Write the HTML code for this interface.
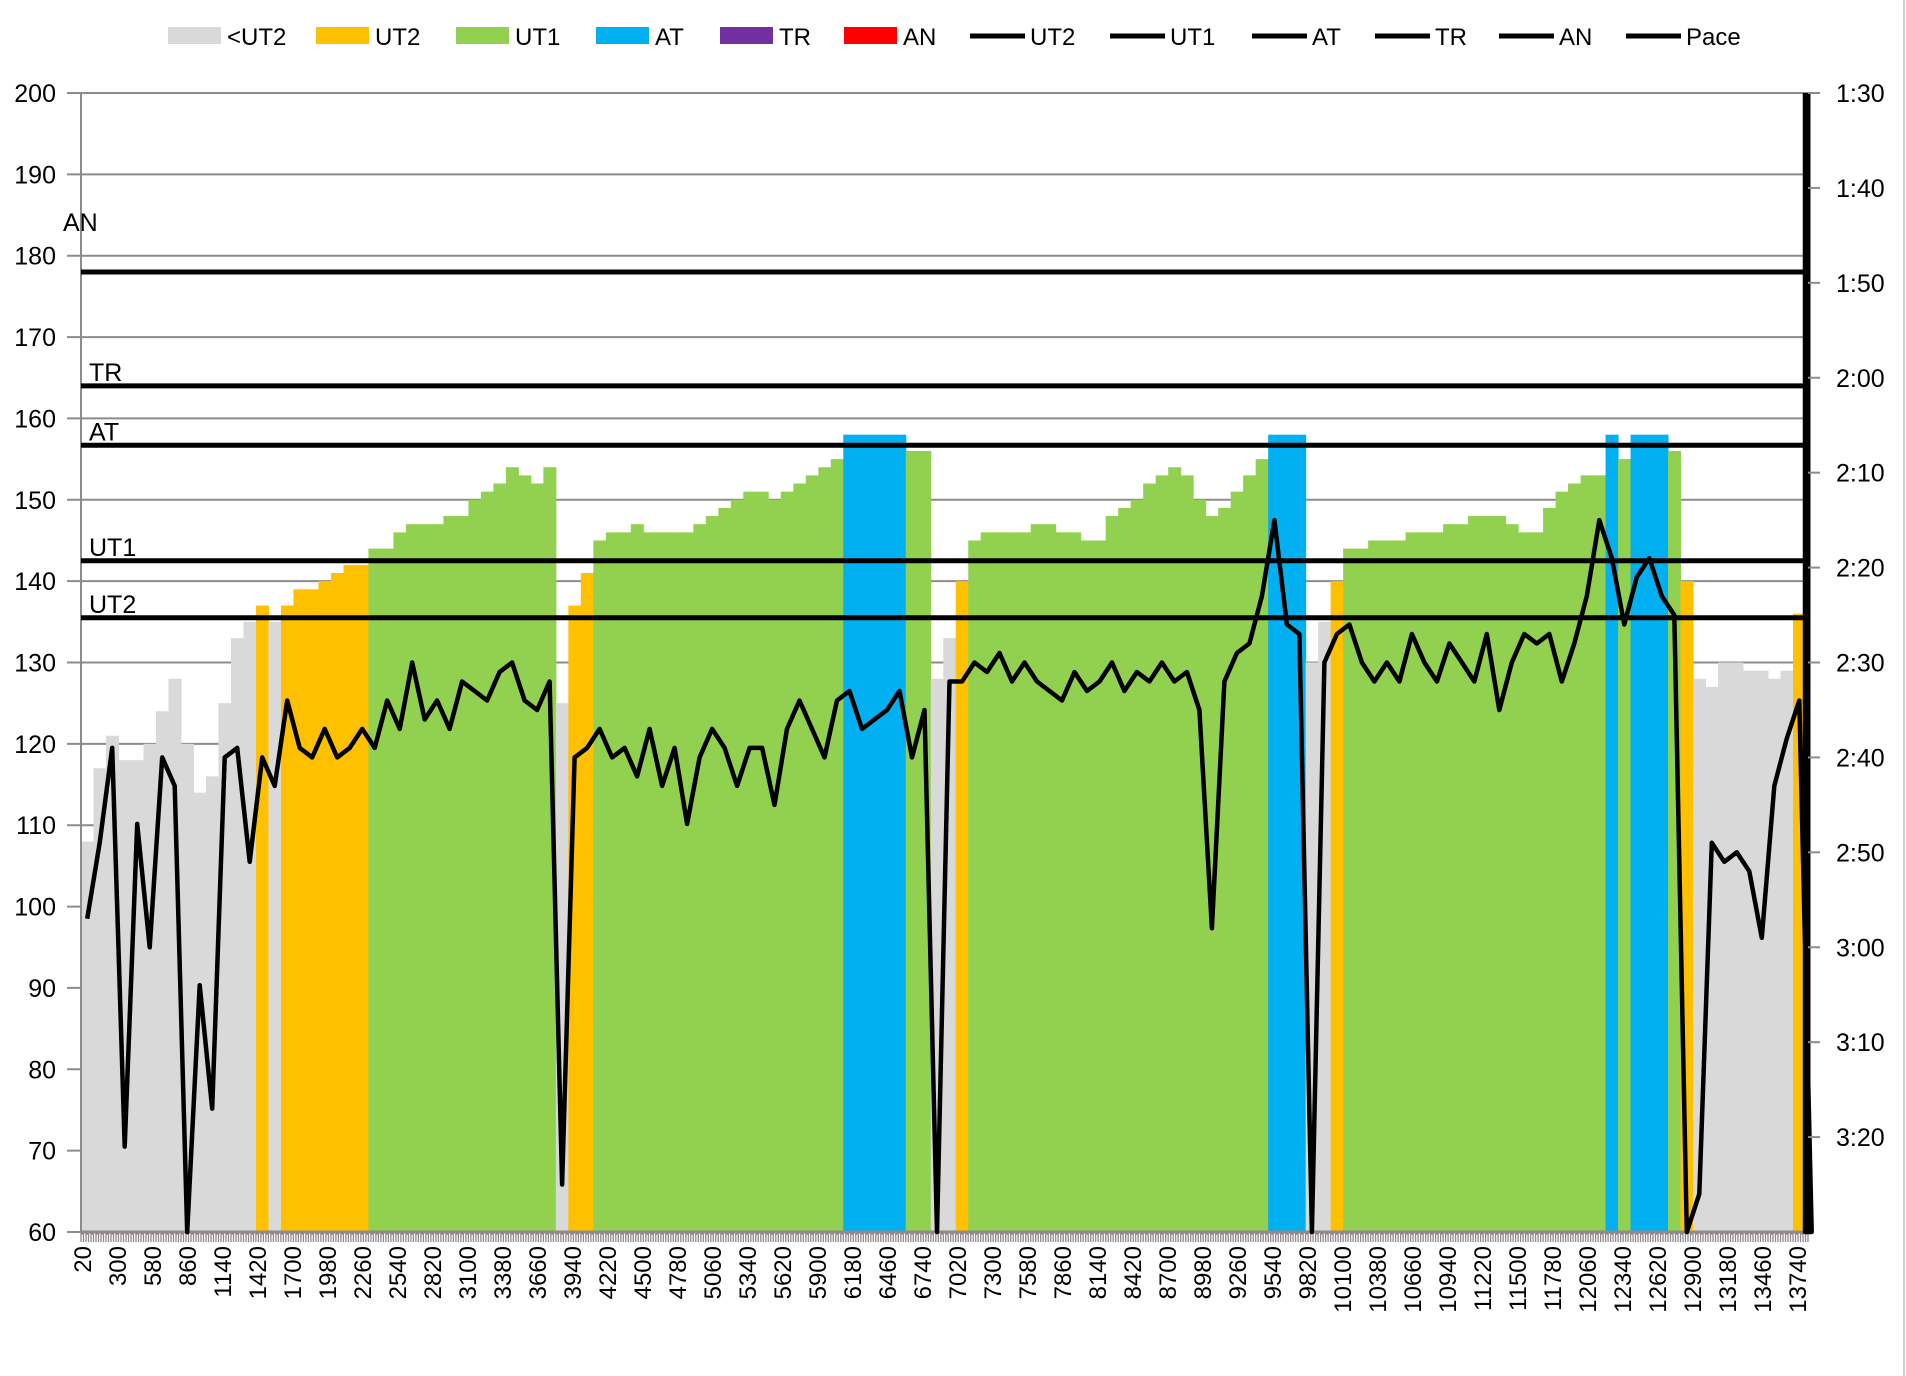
<!DOCTYPE html>
<html><head><meta charset="utf-8"><style>
html,body{margin:0;padding:0;background:#fff;}
body{width:1906px;height:1376px;overflow:hidden;position:relative;font-family:"Liberation Sans",sans-serif;}
svg{position:absolute;left:0;top:0;}
text{font-family:"Liberation Sans",sans-serif;fill:#000;}
</style></head><body>
<svg id="chart" width="1906" height="1376" viewBox="0 0 1906 1376" xmlns="http://www.w3.org/2000/svg">
<line x1="1904" y1="0" x2="1904" y2="1376" stroke="#d0d0d0" stroke-width="2"/>
</svg>
<script>
// ---- data ----
const distStep = 100;
const hr = [108,117,121,118,118,120,124,128,120,114,
116,125,133,135,137,135,137,139,139,140,
141,142,142,144,144,146,147,147,147,148,
148,150,151,152,154,153,152,154,125,137,
141,145,146,146,147,146,146,146,146,147,
148,149,150,151,151,150,151,152,153,154,
155,158,158,158,158,158,156,156,128,133,
140,145,146,146,146,146,147,147,146,146,
145,145,148,149,150,152,153,154,153,150,
148,149,151,153,155,158,158,158,130,135,
140,144,144,145,145,145,146,146,146,147,
147,148,148,148,147,146,146,149,151,152,
153,153,158,155,158,158,158,156,140,128,
127,130,130,129,129,128,129,136,134];
const paceSec = [177,169,159,201,167,180,160,163,210,184,
197,160,159,171,160,163,154,159,160,157,
160,159,157,159,154,157,150,156,154,157,
152,153,154,151,150,154,155,152,205,160,
159,157,160,159,162,157,163,159,167,160,
157,159,163,159,159,165,157,154,157,160,
154,153,157,156,155,153,160,155,210,152,
152,150,151,149,152,150,152,153,154,151,
153,152,150,153,151,152,150,152,151,155,
178,152,149,148,143,135,146,147,210,150,
147,146,150,152,150,152,147,150,152,148,
150,152,147,155,150,147,148,147,152,148,
143,135,139,146,141,139,143,145,210,206,
169,171,170,172,179,163,158,154,210];
const paceEnd = 90;
const zoneNames = ['UT2','UT1','AT','TR','AN'];
const zoneValues = [135.5,142.5,156.7,164,178];
const yTicks = [60,70,80,90,100,110,120,130,140,150,160,170,180,190,200];
const paceTicks = ['1:30','1:40','1:50','2:00','2:10','2:20','2:30','2:40','2:50','3:00','3:10','3:20'];
const catCount = 691, catStart = 20, catStep = 20, labelEvery = 14;

// ---- geometry ----
const L=81, R=1808, T=93, B=1232;
const svg=document.getElementById('chart');
const NS='http://www.w3.org/2000/svg';
const y=v=>B-(v-60)*(B-T)/140;
const ySec=s=>T+(s-90)*(B-T)/120;
const cw=(R-L)/catCount;
const xCat=i=>L+i*cw;
function mk(tag,attrs,parent){const e=document.createElementNS(NS,tag);for(const k in attrs)e.setAttribute(k,attrs[k]);(parent||svg).appendChild(e);return e;}
function colorFor(v){return v>=157?'#00b0f0':v>=143?'#92d050':v>=136?'#ffc000':'#d9d9d9';}

// gridlines
const grid=mk('g',{});


yTicks.forEach(t=>{
  const l=mk('line',{x1:L-14,x2:R,y1:y(t),y2:y(t),stroke:'#8c8c8c','stroke-width':2},grid);
  
  
  const tx=mk('text',{x:56,y:y(t)+9,'text-anchor':'end','font-size':25},grid);
  tx.textContent=t;
  
  
});

// bars
const bars=mk('g',{});


const per=distStep/catStep;
hr.forEach((v,i)=>{
  const x0=xCat(i*per), x1=Math.min(xCat((i+1)*per),R);
  const r=mk('rect',{x:x0,y:y(v),width:Math.max(0,x1-x0+0.5),height:B-y(v),fill:colorFor(v)},bars);
  
  
});

// axes
const ax=mk('g',{});


mk('line',{x1:L,x2:L,y1:T,y2:B,stroke:'#8c8c8c','stroke-width':2},ax);
mk('line',{x1:L,x2:R,y1:B,y2:B,stroke:'#8c8c8c','stroke-width':3},ax);
mk('line',{x1:L,x2:R,y1:B+2,y2:B+2,stroke:'#e04040','stroke-width':1,'stroke-dasharray':'2,3'},ax);
let ticks='';
for(let i=0;i<=catCount;i++){const x=xCat(i);ticks+=`M${x.toFixed(1)} ${B} V${B+10} `;}
mk('path',{d:ticks,stroke:'#8c8c8c','stroke-width':1.3},ax);
for(let i=0;i<catCount;i+=labelEvery){
  const x=xCat(i)+cw/2;
  const t=mk('text',{x:0,y:0,'text-anchor':'end','font-size':24,transform:`translate(${x+9},${B+14}) rotate(-90)`},ax);
  t.textContent=catStart+i*catStep;
  
  
}

// zone lines
zoneValues.forEach((v,i)=>{
  const l=mk('line',{x1:L,x2:R,y1:y(v),y2:y(v),stroke:'#000','stroke-width':5});
  
  
  const isAN=zoneNames[i]==='AN';
  const t=mk('text',{x:isAN?63:89,y:isAN?y(v)-41:y(v)-5,'font-size':25});
  t.textContent=zoneNames[i];
  
  
});

// pace line
let d='';
paceSec.forEach((s,i)=>{const x=xCat(i*per+per/2);d+=(i?'L':'M')+x.toFixed(1)+' '+ySec(Math.min(s,210)).toFixed(1)+' ';});
d+='L'+(R-3)+' '+ySec(210)+' L'+(R-3)+' '+ySec(paceEnd);
const pl=mk('path',{d:d,fill:'none',stroke:'#000','stroke-width':4.5,'stroke-linejoin':'round'});



// right axis
const ra=mk('g',{});


mk('line',{x1:R,x2:R,y1:T,y2:B,stroke:'#000','stroke-width':5},ra);
paceTicks.forEach((lab,i)=>{
  const yy=ySec(90+i*10);
  mk('line',{x1:R,x2:R+12,y1:yy,y2:yy,stroke:'#8c8c8c','stroke-width':2},ra);
  const t=mk('text',{x:1836,y:yy+9,'font-size':25},ra);
  t.textContent=lab;
  
  
});

// legend
const legendNames=['<UT2','UT2','UT1','AT','TR','AN','UT2','UT1','AT','TR','AN','Pace'];
const legendColors=['#d9d9d9','#ffc000','#92d050','#00b0f0','#7030a0','#ff0000'];
const legendX=[168,316,456,596,720,844,970,1110,1252,1375,1499,1626];
const lg=mk('g',{});


legendNames.forEach((n,i)=>{
  const g=mk('g',{},lg);
  
  
  const x=legendX[i];
  if(i<6) mk('rect',{x:x,y:27,width:53,height:17,fill:legendColors[i]},g);
  else mk('line',{x1:x,x2:x+55,y1:36,y2:36,stroke:'#000','stroke-width':5},g);
  const t=mk('text',{x:x+(i<6?59:60),y:45,'font-size':24},g);
  t.textContent=n;
});
</script>
</body></html>
